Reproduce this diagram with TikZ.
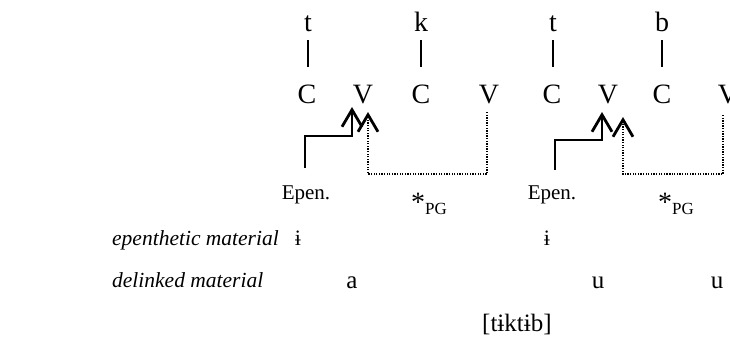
\documentclass[tikz,border=0pt]{standalone}
\usepackage{fontspec}
\setmainfont{Liberation Serif}
\usetikzlibrary{arrows.meta}
\tikzset{
  seg/.style={font=\fontsize{28}{30}\selectfont, inner sep=0pt, anchor=base},
  lbl/.style={font=\fontsize{21.5}{24}\selectfont\itshape, inner sep=0pt, anchor=base west},
  small/.style={font=\fontsize{21}{23}\selectfont, inner sep=0pt, anchor=base},
  assoc/.style={line width=1.8pt},
  caret/.style={-{Straight Barb[length=17pt,width=20pt,line width=2.8pt]}},
  epen/.style={line width=2.9pt, caret},
  pg/.style={line width=2.5pt, dash pattern=on 1.3pt off 1.3pt, caret},
}
\begin{document}
\begin{tikzpicture}[x=1pt,y=-1pt]
\useasboundingbox (0,0) rectangle (730,361);
% group 1
\node[seg] (t1) at (308,32) {t};
\node[seg] (k1) at (421,32) {k};
\node[seg] (c1) at (307,103) {C};
\node[seg] (v1) at (363,103) {V};
\node[seg] (c2) at (421,103) {C};
\node[seg] (v2) at (489,103) {V};
% group 2
\node[seg] (t2) at (553,32) {t};
\node[seg] (b2) at (662,32) {b};
\node[seg] (c3) at (552,103) {C};
\node[seg] (v3) at (608,103) {V};
\node[seg] (c4) at (662,103) {C};
\node[seg] (v4) at (728,103) {V};
% association lines
\draw[assoc] (308,40) -- (308,67);
\draw[assoc] (421,40) -- (421,67);
\draw[assoc] (553,40) -- (553,67);
\draw[assoc] (662,40) -- (662,67);
% coordinates for connectors
\coordinate (e1s) at (305,168);
\coordinate (e1t) at (352,107);
\coordinate (p1s) at (487,112);
\coordinate (p1t) at (368,112);
\coordinate (e2s) at (555,170);
\coordinate (e2t) at (602,112);
\coordinate (p2s) at (723,115);
\coordinate (p2t) at (623,117);
\draw[epen] (e1s) |- (330,136) -| (e1t);
\draw[pg] (p1s) |- (420,174) -| (p1t);
\draw[epen] (e2s) |- (580,140) -| (e2t);
\draw[pg] (p2s) |- (670,174) -| (p2t);
% labels
\node[small] (ep1) at (306,199) {Epen.};
\node[small] (ep2) at (552,199) {Epen.};
\node[inner sep=0pt, anchor=base] (pg1) at (429,211) {{\fontsize{28}{30}\selectfont *}{\fontsize{17}{19}\selectfont\raisebox{-3pt}{PG}}};
\node[inner sep=0pt, anchor=base] (pg2) at (676,211) {{\fontsize{28}{30}\selectfont *}{\fontsize{17}{19}\selectfont\raisebox{-3pt}{PG}}};
\node[lbl] (l1) at (112,245) {epenthetic material};
\node[lbl] (l2) at (112,287) {delinked material};
\node[small, font=\fontsize{22}{24}\selectfont] (i1) at (298,245) {ɨ};
\node[small, font=\fontsize{22}{24}\selectfont] (i2) at (547,245) {ɨ};
\node[seg, font=\fontsize{25}{27}\selectfont] (a1) at (352,288) {a};
\node[seg, font=\fontsize{25}{27}\selectfont] (u1) at (598,288) {u};
\node[seg, font=\fontsize{25}{27}\selectfont] (u2) at (717,288) {u};
\node[seg, font=\fontsize{25}{27}\selectfont, anchor=base west] (out) at (482,331) {[tɨktɨb]};
\end{tikzpicture}
\end{document}
